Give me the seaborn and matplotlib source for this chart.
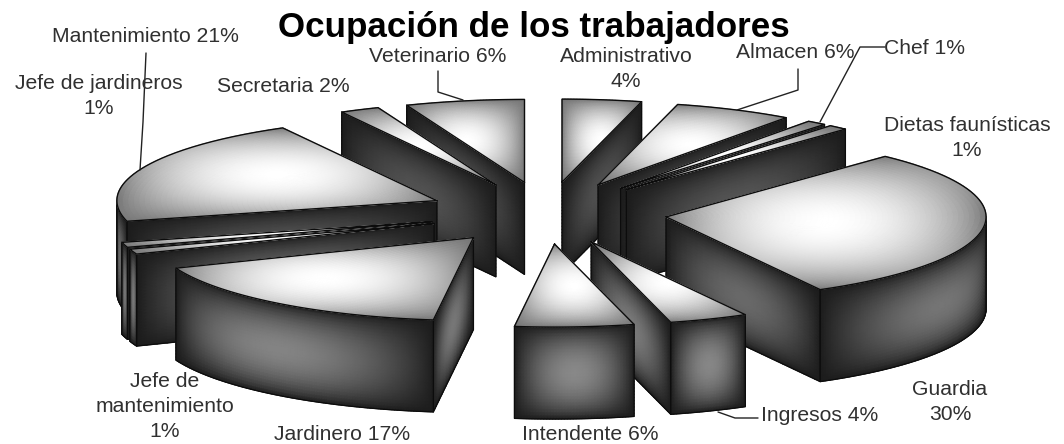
#!/usr/bin/env python3

import numpy as np
import seaborn as sns
import matplotlib.pyplot as plt

# Data
categories = ["Administrativo", "Almacen", "Chef", "Dietas faunísticas",
              "Guardia", "Ingresos", "Intendente", "Jardinero",
              "Jefe de mantenimiento", "Jefe de jardineros", "Mantenimiento",
              "Secretaria", "Veterinario"]
percent = [4, 6, 1, 1, 30, 4, 6, 17, 1, 1, 21, 2, 6]

# Label text, kept apart from where it goes
title_text = "Ocupación de los trabajadores"
label_text = ["Administrativo\n4%", "Almacen 6%", "Chef 1%",
              "Dietas faunísticas\n1%", "Guardia\n30%", "Ingresos 4%",
              "Intendente 6%", "Jardinero 17%", "Jefe de\nmantenimiento\n1%",
              "Jefe de jardineros\n1%", "Mantenimiento 21%", "Secretaria 2%",
              "Veterinario 6%"]

# Pie geometry in pixels
CX, CY = 547, 213
RX, RY = 320, 83
DEPTH = 92
EXPLODE = 0.375

LABEL_POS = [(626, 69), (795, 52), (924, 48), (967, 138), (950, 402),
             (820, 415), (590, 434), (342, 434), (165, 406), (99, 96),
             (145, 36), (283, 87), (438, 56)]
LEADERS = [[(146, 53), (143, 122), (140, 170)],
           [(438, 71), (438, 92), (463, 100)],
           [(798, 69), (798, 90), (737, 110)],
           [(885, 47), (860, 47), (820, 122)],
           [(758, 418), (735, 418), (718, 412)]]

gray_map = sns.blend_palette(["#000000", "#ffffff"], n_colors=256, as_cmap=True)


def bump(t, power=0.8):
    return np.clip(np.sin(np.pi * t), 0, 1)**power


def project(theta, radius, tip):
    # theta in degrees, clockwise from the top of the pie
    rad = np.radians(theta)
    return (tip[0] + radius * RX * np.sin(rad),
            tip[1] - radius * RY * np.cos(rad))


def draw_wall(ax, x_edge, y_edge, light, z):
    n_v = 30
    v = np.linspace(0, 1, n_v)
    x = np.repeat(x_edge[None, :], n_v, axis=0)
    y = y_edge[None, :] + DEPTH * v[:, None]
    u = np.linspace(0, 1, len(x_edge))
    shade = 28 + (light - 28) * bump(u)[None, :] * bump(v, 0.7)[:, None]
    ax.pcolormesh(x, y, shade, shading="gouraud", cmap=gray_map,
                  vmin=0, vmax=255, zorder=z)
    outline_x = np.r_[x_edge, x_edge[::-1], x_edge[0]]
    outline_y = np.r_[y_edge, y_edge[::-1] + DEPTH, y_edge[0]]
    ax.plot(outline_x, outline_y, color="#0c0c0c", lw=0.9, zorder=z)


def draw_top(ax, t1, t2, tip, z):
    thetas = np.linspace(t1, t2, max(12, 2 * int(t2 - t1)))
    radii = np.linspace(0, 1, 60)
    tt, rr = np.meshgrid(thetas, radii)
    x, y = project(tt, rr, tip)
    u = (x - x.min()) / (x.max() - x.min())
    v = (y - y.min()) / (y.max() - y.min())
    shade = 118 + 137 * bump(u, 0.7) * bump(v, 0.7)
    ax.pcolormesh(x, y, shade, shading="gouraud", cmap=gray_map,
                  vmin=0, vmax=255, zorder=z)
    arc_x, arc_y = project(thetas, 1, tip)
    ax.plot(np.r_[tip[0], arc_x, tip[0]], np.r_[tip[1], arc_y, tip[1]],
            color="#0c0c0c", lw=1.0, zorder=z)


def draw_slice(ax, t1, t2, z):
    mid = (t1 + t2) / 2
    tip = project(mid, EXPLODE, (CX, CY))
    light = 102 - 22 * np.cos(np.radians(mid))
    radii = np.linspace(0, 1, 30)

    # Radial face on the start edge shows on the left half of the pie
    if np.sin(np.radians(t1)) < -1e-6:
        x, y = project(t1, radii, tip)
        draw_wall(ax, x[::-1], y[::-1], light, z)
    # Radial face on the end edge shows on the right half
    if np.sin(np.radians(t2)) > 1e-6:
        x, y = project(t2, radii, tip)
        draw_wall(ax, x, y, light, z + 0.1)
    # Outer wall, only the part that faces the viewer
    lo, hi = max(t1, 90), min(t2, 270)
    if hi > lo:
        thetas = np.linspace(lo, hi, max(12, 2 * int(hi - lo)))
        x, y = project(thetas, 1, tip)
        draw_wall(ax, x, y, light + 12, z + 0.2)
    draw_top(ax, t1, t2, tip, z + 0.3)


def main():
    sns.set_theme(style="white")
    plt.rcParams["font.family"] = ["Liberation Sans", "DejaVu Sans"]

    fig = plt.figure(figsize=(10.64, 4.44), dpi=100, facecolor="white")
    ax = fig.add_axes([0, 0, 1, 1])

    edges = np.r_[0, np.cumsum(percent)] * 3.6
    # Back slices first so the front ones cover them
    mids = (edges[:-1] + edges[1:]) / 2
    order = np.argsort(-np.cos(np.radians(mids)))
    for z, idx in enumerate(order):
        draw_slice(ax, edges[idx], edges[idx + 1], 2 + z)

    for points in LEADERS:
        xs, ys = zip(*points)
        ax.plot(xs, ys, color="#222222", lw=1.0, zorder=40)

    for text, (x, y) in zip(label_text, LABEL_POS):
        ax.text(x, y, text, ha="center", va="center", fontsize=15.2,
                color="#303030", linespacing=1.4, zorder=50)
    ax.text(534, 27, title_text, ha="center", va="center", fontsize=25.2,
            fontweight="bold", color="black", zorder=50)

    ax.set_xlim(0, 1064)
    ax.set_ylim(444, 0)
    ax.axis("off")
    fig.savefig("out.png", dpi=100, facecolor="white")
    plt.close(fig)


if __name__ == '__main__':
    main()
